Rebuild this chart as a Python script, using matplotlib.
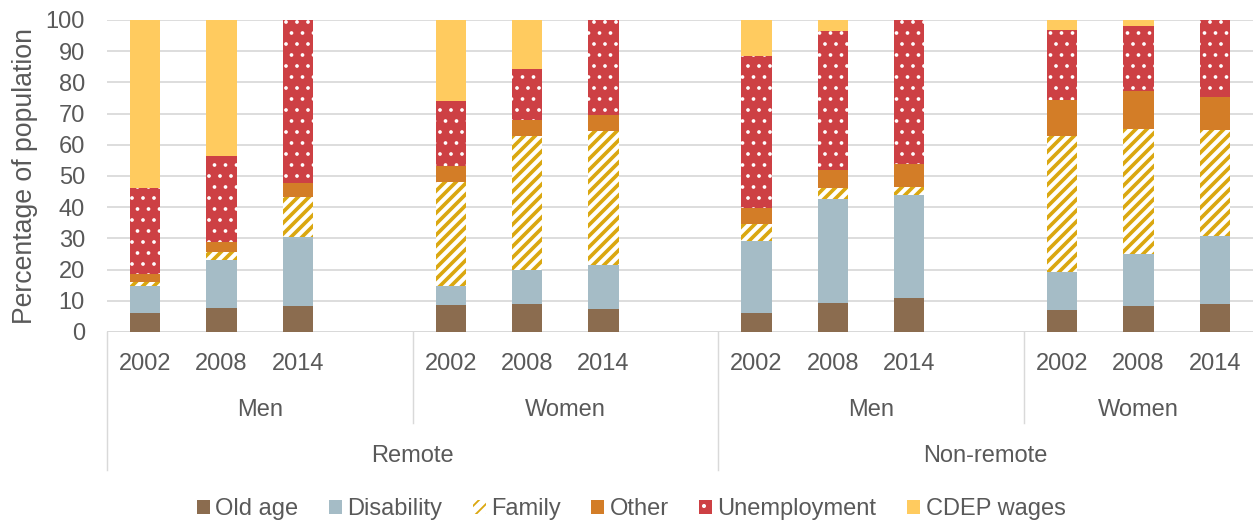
import matplotlib
matplotlib.use("Agg")
import matplotlib.pyplot as plt
from matplotlib.patches import Patch

# ---------------- data ----------------
regions = ["Remote", "Non-remote"]
sexes = ["Men", "Women"]
years = ["2002", "2008", "2014"]

series = ["Old age", "Disability", "Family", "Other", "Unemployment", "CDEP wages"]

# 12 bars: Remote Men (02,08,14), Remote Women, Non-remote Men, Non-remote Women
old_age      = [6.1, 7.7, 8.3,   8.8, 9.1, 7.5,   6.2, 9.3, 10.9,   7.0, 8.3, 9.0]
disability   = [8.6, 15.3, 22.0, 6.0, 10.7, 13.9, 23.0, 33.2, 33.0, 12.3, 16.8, 21.7]
family       = [1.3, 2.7, 13.0,  33.3, 43.0, 43.0, 5.3, 3.7, 2.6,   43.6, 40.1, 34.0]
other        = [2.7, 3.2, 4.3,   5.2, 5.1, 5.3,   5.4, 5.7, 7.2,    11.6, 11.9, 10.7]
unemployment = [27.3, 27.6, 52.4, 20.7, 16.4, 30.3, 48.7, 44.6, 46.3, 22.3, 21.1, 24.6]
cdep_wages   = [54.0, 43.5, 0.0, 26.0, 15.7, 0.0, 11.4, 3.5, 0.0,   3.2, 1.8, 0.0]

values = [old_age, disability, family, other, unemployment, cdep_wages]

# ---------------- style ----------------
DPI = 132
plt.rcParams["font.family"] = ["Liberation Sans", "DejaVu Sans"]
TXT = "#595959"
GRID = "#D9D9D9"
FS = 12.9

styles = [
    dict(facecolor="#8B6C4F", edgecolor="#8B6C4F", hatch=None, hlw=1.0),
    dict(facecolor="#A5BCC6", edgecolor="#A5BCC6", hatch=None, hlw=1.0),
    dict(facecolor="white", edgecolor="#DAA710", hatch="////", hlw=2.0),
    dict(facecolor="#D37D27", edgecolor="#D37D27", hatch=None, hlw=1.0),
    dict(facecolor="#CD4044", edgecolor="white", hatch="..", hlw=0.8),
    dict(facecolor="#FFCB5F", edgecolor="#FFCB5F", hatch=None, hlw=1.0),
]

fig = plt.figure(figsize=(1253 / DPI, 523 / DPI), dpi=DPI)
ax = fig.add_axes([107 / 1253, 191 / 523, 1146 / 1253, 312 / 523])

# slot positions: 4 slots per group (3 bars + gap), last group has no trailing gap
positions = []
for g in range(len(regions) * len(sexes)):
    for j in range(len(years)):
        positions.append(4 * g + j)

bottom = [0.0] * len(positions)
for name, vals, st in zip(series, values, styles):
    plt.rcParams["hatch.linewidth"] = st["hlw"]
    ax.bar(positions, vals, width=0.4, bottom=bottom, facecolor=st["facecolor"],
           edgecolor=st["edgecolor"], hatch=st["hatch"], linewidth=0, label=name,
           zorder=3)
    bottom = [b + v for b, v in zip(bottom, vals)]

ax.set_xlim(-0.5, 14.5)
ax.set_ylim(0, 100)
ax.set_yticks(range(0, 101, 10))
ax.yaxis.grid(True, color=GRID, linewidth=0.95, zorder=0)
ax.set_axisbelow(True)
ax.tick_params(axis="y", length=0, pad=12, labelsize=FS, labelcolor=TXT)
ax.set_xticks([])
for s in ax.spines.values():
    s.set_visible(False)
ax.axhline(0, color=GRID, linewidth=1.0, zorder=2)

ax.set_ylabel("Percentage of population", fontsize=14.5, color=TXT, labelpad=4)

# multi-level category axis
tr = ax.get_xaxis_transform()
y_year, y_sex, y_reg = -0.102, -0.249, -0.396
y_inner, y_outer = -0.292, -0.442
for i, p in enumerate(positions):
    ax.text(p, y_year, years[i % 3], transform=tr, ha="center", va="center",
            fontsize=FS, color=TXT, clip_on=False)

group_edges = [-0.5, 3.5, 7.5, 11.5, 14.5]
for g in range(4):
    xc = (group_edges[g] + group_edges[g + 1]) / 2
    ax.text(xc, y_sex, sexes[g % 2], transform=tr, ha="center", va="center",
            fontsize=FS, color=TXT, clip_on=False)
for r in range(2):
    xc = (group_edges[2 * r] + group_edges[2 * r + 2]) / 2
    ax.text(xc, y_reg, regions[r], transform=tr, ha="center", va="center",
            fontsize=FS, color=TXT, clip_on=False)

for k, xe in enumerate(group_edges[:-1]):
    ybot = y_outer if k % 2 == 0 else y_inner
    ax.plot([xe, xe], [0, ybot], transform=tr, color=GRID, linewidth=0.8,
            clip_on=False, zorder=1)

# legend
handles = []
for n, st in zip(series, styles):
    plt.rcParams["hatch.linewidth"] = st["hlw"]
    handles.append(Patch(facecolor=st["facecolor"], edgecolor=st["edgecolor"],
                         hatch=st["hatch"], linewidth=0, label=n))
fig.legend(handles=handles, loc="center", bbox_to_anchor=(631 / 1253, 1 - 509 / 523),
           ncol=6, frameon=False, fontsize=FS, labelcolor=TXT,
           handlelength=0.55, handleheight=0.55, handletextpad=0.22,
           columnspacing=1.3, borderaxespad=0, borderpad=0)

fig.savefig("out.png", dpi=DPI)
